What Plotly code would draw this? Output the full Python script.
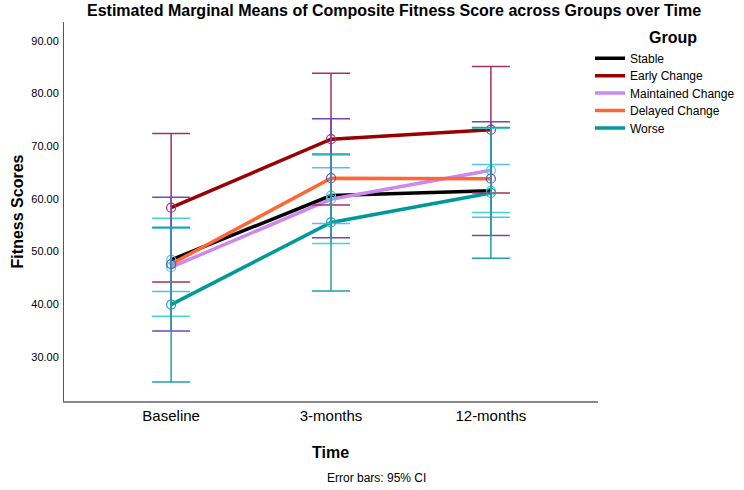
import plotly.graph_objects as go

times = ["Baseline", "3-months", "12-months"]
groups = ["Stable", "Early Change", "Maintained Change", "Delayed Change", "Worse"]

stable = [48.4, 60.6, 61.5]
early = [58.3, 71.3, 73.1]
maintained = [47.0, 59.9, 65.4]
delayed = [47.6, 63.9, 63.8]
worse = [39.9, 55.5, 61.1]

stable_ci = [6.0, 5.3, 5.0]
early_ci = [14.1, 12.5, 12.0]
maintained_ci = [9.3, 8.4, 8.0]
delayed_ci = [12.7, 11.3, 10.8]
worse_ci = [14.7, 13.0, 12.4]

y_ticks = [30, 40, 50, 60, 70, 80, 90]

means = [stable, early, maintained, delayed, worse]
cis = [stable_ci, early_ci, maintained_ci, delayed_ci, worse_ci]
line_colors = ["#000000", "#990000", "#CC88EE", "#FF6633", "#009999"]
err_colors = ["#55BFF0", "#A8305F", "#40D6D6", "#7446B8", "#1FA3A3"]

W, H = 744, 490
PX0, PX1, PY0, PY1 = 64, 598, 22, 401
def px(x):
    return (x - PX0) / (PX1 - PX0)
def py(y):
    return (PY1 - y) / (PY1 - PY0)

fig = go.Figure()
legend_names = ["legend", "legend2", "legend3", "legend4", "legend5"]
for g, m, c, ln in zip(groups, means, line_colors, legend_names):
    fig.add_trace(go.Scatter(x=times, y=m, name=g, mode="lines", legend=ln,
                             line=dict(color=c, width=3.5)))
for g, m, ci, ec in zip(groups, means, cis, err_colors):
    fig.add_trace(go.Scatter(x=times, y=m, name=g, mode="markers", showlegend=False,
                             marker=dict(symbol="circle-open", size=9, color=ec,
                                         line=dict(color=ec, width=1.2)),
                             error_y=dict(type="data", array=ci, visible=True,
                                          color=ec, thickness=1.5, width=19)))

font = "Arial, Liberation Sans, sans-serif"
legend_layout = {}
for i, ln in enumerate(legend_names):
    legend_layout[ln] = dict(x=px(590), xanchor="left", y=py(58.3 + 17.4 * i), yanchor="middle",
                             font=dict(size=12), itemwidth=30, bgcolor="rgba(0,0,0,0)",
                             borderwidth=0)

fig.update_layout(
    width=W, height=H,
    margin=dict(l=PX0, r=W - PX1, t=PY0, b=H - PY1, autoexpand=False),
    plot_bgcolor="white", paper_bgcolor="white",
    font=dict(family=font, color="#000000"),
    showlegend=True,
    xaxis=dict(range=[-0.67, 2.67], showline=True, linecolor="#888888", linewidth=1.5,
               showgrid=False, zeroline=False, ticks="", tickfont=dict(size=15),
               mirror=False, automargin=False),
    yaxis=dict(range=[21.6, 93.55], showline=True, linecolor="#555555", linewidth=1,
               showgrid=False, zeroline=False, ticks="", tickvals=y_ticks,
               tickformat=".2f", tickfont=dict(size=11), ticklabelstandoff=2,
               automargin=False,
               title=dict(text="<b>Fitness Scores</b>", font=dict(size=16), standoff=3)),
    annotations=[
        dict(text="<b>Estimated Marginal Means of Composite Fitness Score across Groups over Time</b>",
             xref="paper", yref="paper", x=px(394), y=py(10), xanchor="center", yanchor="middle",
             showarrow=False, font=dict(size=16)),
        dict(text="<b>Group</b>", xref="paper", yref="paper", x=px(647), y=py(37),
             xanchor="left", yanchor="middle", showarrow=False, font=dict(size=16)),
        dict(text="<b>Time</b>", xref="paper", yref="paper", x=px(330), y=py(452),
             xanchor="center", yanchor="middle", showarrow=False, font=dict(size=16)),
        dict(text="Error bars: 95% CI", xref="paper", yref="paper", x=px(376), y=py(478),
             xanchor="center", yanchor="middle", showarrow=False, font=dict(size=12)),
    ],
    **legend_layout,
)

fig.write_html("out.html", config={"displayModeBar": False},
               post_script="document.body.style.margin='0px';document.body.style.padding='0px';")
